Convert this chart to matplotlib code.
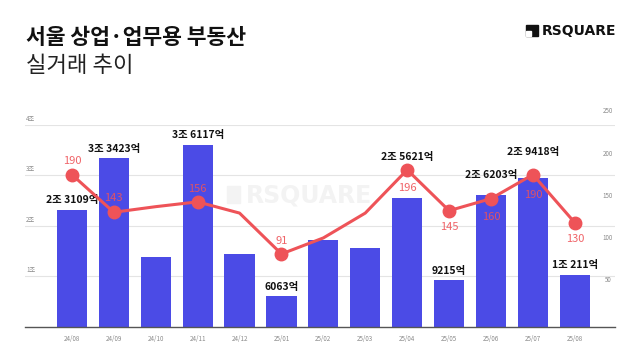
import matplotlib
matplotlib.use("Agg")
import matplotlib.pyplot as plt
from matplotlib.patches import Rectangle
from matplotlib.transforms import blended_transform_factory

plt.rcParams["font.family"] = ["Noto Sans CJK KR", "DejaVu Sans"]

# ---- data -------------------------------------------------------------
months = ["24/08", "24/09", "24/10", "24/11", "24/12", "25/01", "25/02",
          "25/03", "25/04", "25/05", "25/06", "25/07", "25/08"]
amount_jo = [2.3109, 3.3423, 1.39, 3.6117, 1.45, 0.6063, 1.72,
             1.56, 2.5621, 0.9215, 2.6203, 2.9418, 1.0211]
amount_labels = ["2조 3109억", "3조 3423억", "", "3조 6117억", "", "6063억", "",
                 "", "2조 5621억", "9215억", "2조 6203억", "2조 9418억", "1조 211억"]
count = [190, 143, 150, 156, 142, 91, 111, 142, 196, 145, 160, 190, 130]
count_labels = ["190", "143", "", "156", "", "91", "", "", "196", "145", "160", "190", "130"]
left_ticks = [1, 2, 3, 4]
left_ticklabels = ["1조", "2조", "3조", "4조"]
right_ticks = [50, 100, 150, 200, 250]

# ---- style --------------------------------------------------------------
BLUE = "#4B4BE6"
RED = "#EE5358"
bar_label_dy = [7.2, 6.5, 0, 7.2, 0, 6.5, 0, 0, 29, 6.5, 14.4, 18.7, 7.2]   # points
count_label_dy = [10, 10, 0, 9.5, 0, 9, 0, 0, -13, -11.5, -13, -15, -11.5]

fig = plt.figure(figsize=(6.4, 3.6), dpi=100)

# watermark (behind the chart)
fig.text(0.384, 0.458, "RSQUARE", fontsize=17, fontweight="bold",
         color="#F3F3F3", ha="left", va="center", family="DejaVu Sans", zorder=0)
fig.patches.append(Rectangle((0.355, 0.435), 0.02, 0.048, transform=fig.transFigure,
                             color="#F3F3F3", zorder=0))

ax = fig.add_axes([0.039, 0.092, 0.922, 0.561])
ax.set_zorder(1)
ax.patch.set_visible(False)
x = list(range(len(months)))

ax.bar(x, amount_jo, width=0.72, color=BLUE, zorder=2)
ax.set_xlim(-1.12, 12.96)
ax.set_ylim(0, 4.0)
ax.set_yticks(left_ticks)
ax.set_yticklabels([])
ax.tick_params(axis="y", length=0)
ax.grid(axis="y", color="#E4E4E4", lw=0.8, zorder=0)
ax.set_xticks(x)
ax.set_xticklabels(months, fontsize=4.5, color="#8A8A8A")
ax.tick_params(axis="x", length=0, pad=6)
for s in ["top", "right", "left"]:
    ax.spines[s].set_visible(False)
ax.spines["bottom"].set_color("#555555")
ax.spines["bottom"].set_linewidth(1.0)
ax.spines["bottom"].set_zorder(3)

tr = blended_transform_factory(ax.transAxes, ax.transData)
for v, lab in zip(left_ticks, left_ticklabels):
    ax.text(0.002, v + 0.04, lab, transform=tr, fontsize=4.5, color="#8A8A8A",
            ha="left", va="bottom")

for xi, v, lab, dy in zip(x, amount_jo, amount_labels, bar_label_dy):
    if lab:
        ax.annotate(lab, (xi, v), xytext=(0, dy), textcoords="offset points",
                    ha="center", va="center", fontsize=7.5, fontweight="bold",
                    color="#111111", zorder=6)

ax2 = ax.twinx()
ax2.set_zorder(2)
ax2.patch.set_visible(False)
ax2.set_ylim(0, 252)
ax2.set_yticks([])
for s in ax2.spines.values():
    s.set_visible(False)
ax2.plot(x, count, color=RED, lw=2.2, zorder=4)
ax2.plot([xi for xi, l in zip(x, count_labels) if l],
         [c for c, l in zip(count, count_labels) if l],
         "o", ms=9, color=RED, zorder=5)
tr2 = blended_transform_factory(ax2.transAxes, ax2.transData)
for v in right_ticks:
    ax2.text(0.988, v + 8 + (v - 50) * 0.055, str(v), transform=tr2,
             fontsize=4.5, color="#8A8A8A", ha="center", va="center")
for xi, v, lab, dy in zip(x, count, count_labels, count_label_dy):
    if lab:
        ax2.annotate(lab, (xi, v), xytext=(0, dy), textcoords="offset points",
                     ha="center", va="center",
                     fontsize=8, color=RED, alpha=0.9, zorder=6)

# titles
fig.text(0.040, 0.897, "서울 상업·업무용 부동산", fontsize=15.5, fontweight="bold",
         color="#111111", ha="left", va="center")
fig.text(0.040, 0.819, "실거래 추이", fontsize=16, color="#222222",
         ha="left", va="center")

# logo
fig.patches.append(Rectangle((0.822, 0.9), 0.018, 0.031, transform=fig.transFigure,
                             color="#111111"))
fig.patches.append(Rectangle((0.822, 0.9), 0.007, 0.014, transform=fig.transFigure,
                             color="white"))
fig.text(0.846, 0.914, "RSQUARE", fontsize=10, fontweight="bold",
         color="#111111", ha="left", va="center", family="DejaVu Sans")

fig.savefig("out.png", dpi=100)
